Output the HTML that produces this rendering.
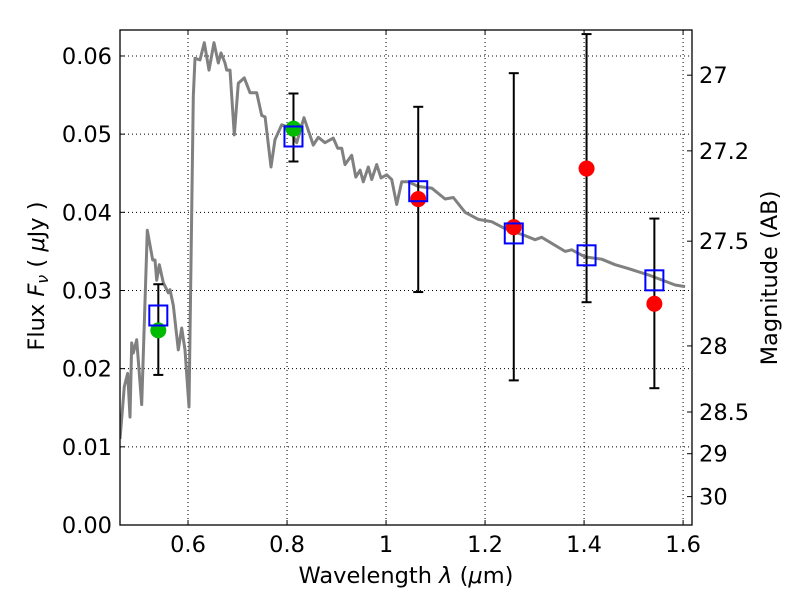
<!DOCTYPE html>
<html><head><meta charset="utf-8"><style>
html,body{margin:0;padding:0;background:#fff;}
svg{display:block;font-family:"DejaVu Sans","Liberation Sans",sans-serif;}
</style></head><body>
<svg id="chart" width="800" height="600" viewBox="0 0 800 600" xmlns="http://www.w3.org/2000/svg">
<rect width="800" height="600" fill="#fff"/>
<g id="grid"></g>
<g id="spec"></g>
<g id="marks"></g>
<g id="axes"></g>
<text x="406" y="583" font-size="22.5" text-anchor="middle">Wavelength  <tspan font-style="italic">λ</tspan> (<tspan font-style="italic">μ</tspan>m)</text>
<text transform="translate(44,276) rotate(-90)" font-size="22.5" text-anchor="middle">Flux  <tspan font-style="italic">F<tspan font-size="16" dy="4">ν</tspan></tspan><tspan dy="-4">  (  </tspan><tspan font-style="italic">μ</tspan>Jy )</text>
<text transform="translate(777,278) rotate(-90)" font-size="22.5" text-anchor="middle">Magnitude (AB)</text>
</svg>
<script>
const specWave=[.4626,.4713,.4782,.4828,.4862,.4895,.4963,.5064,.5178,.5287,.5333,.5367,.5420,.5501,.5602,.5636,.5703,.5804,.5872,.5939,.6020,.6060,.6107,.6141,.6242,.6329,.6424,.6525,.6612,.6666,.6747,.6782,.6848,.6935,.7016,.7137,.7252,.7388,.7489,.7556,.7677,.7757,.7893,.8026,.8196,.8343,.8531,.8632,.8767,.8935,.9024,.9105,.9171,.9307,.9388,.9475,.9541,.9642,.9711,.9812,.9899,1.0014,1.0115,1.0216,1.0317,1.0450,1.0652,1.0923,1.1192,1.1359,1.1596,1.1865,1.2135,1.2404,1.2774,1.3010,1.3145,1.3616,1.3751,1.4020,1.4357,1.4626,1.4895,1.5299,1.5838,1.6040];
const specFlux=[.0110,.0177,.0194,.0138,.0233,.0220,.0237,.0154,.0377,.0339,.0339,.0313,.0333,.0310,.0297,.0301,.0281,.0224,.0252,.0224,.0151,.0335,.0548,.0597,.0595,.0617,.0582,.0617,.0591,.0604,.0591,.0582,.0582,.0499,.0565,.0572,.0553,.0553,.0524,.0522,.0458,.0493,.0512,.0509,.0489,.0521,.0486,.0496,.0489,.0495,.0482,.0482,.0461,.0473,.0445,.0454,.0439,.0458,.0442,.0461,.0444,.0448,.0442,.0410,.0439,.0439,.0433,.0431,.0417,.0419,.0400,.0391,.0388,.0379,.0371,.0365,.0368,.0350,.0352,.0343,.0340,.0333,.0328,.0320,.0307,.0305];
const bandWave=[0.54,0.813,1.065,1.258,1.405,1.542];
const modelFlux=[0.0268,0.0497,0.0427,0.0373,0.0345,0.0313];
const errLow=[0.0192,0.0465,0.0298,0.0185,0.0285,0.0175];
const errHigh=[0.0308,0.0552,0.0535,0.0578,0.0628,0.0392];
const greenWave=[0.54,0.813];
const greenFlux=[0.0249,0.0507];
const redWave=[1.065,1.258,1.405,1.542];
const redFlux=[0.0417,0.0381,0.0456,0.0283];
const xTicks=[0.6,0.8,1.0,1.2,1.4,1.6];
const xTickLabels=["0.6","0.8","1","1.2","1.4","1.6"];
const yTicks=[0,0.01,0.02,0.03,0.04,0.05,0.06];
const yTickLabels=["0.00","0.01","0.02","0.03","0.04","0.05","0.06"];
const magTicks=[27,27.2,27.5,28,28.5,29,30];
const magTickLabels=["27","27.2","27.5","28","28.5","29","30"];

const L=120,R=692,T=30,B=525,X0=0.4626,X1=1.618,Y0=0,Y1=(B-T)/7817;
const sx=v=>L+(v-X0)/(X1-X0)*(R-L);
const sy=v=>B-(v-Y0)/(Y1-Y0)*(B-T);
const NS="http://www.w3.org/2000/svg";
function mk(tag,attrs,parent){const e=document.createElementNS(NS,tag);for(const k in attrs)e.setAttribute(k,attrs[k]);parent.appendChild(e);return e;}
const grid=document.getElementById('grid'),spec=document.getElementById('spec'),marks=document.getElementById('marks'),axes=document.getElementById('axes');

xTicks.forEach((t,i)=>{const x=sx(t);
 let g=mk('line',{x1:x,x2:x,y1:T,y2:B,stroke:'#000','stroke-width':1,'stroke-dasharray':'1,3'},grid);
 
 
 mk('line',{x1:x,x2:x,y1:B,y2:B-5,stroke:'#000'},axes);
 mk('line',{x1:x,x2:x,y1:T,y2:T+5,stroke:'#000'},axes);
 let tx=mk('text',{x:x,y:B+27,'font-size':22.5,'text-anchor':'middle'},axes);tx.textContent=xTickLabels[i];
 
 
});
yTicks.forEach((t,i)=>{const y=sy(t);
 let g=mk('line',{x1:L,x2:R,y1:y,y2:y,stroke:'#000','stroke-width':1,'stroke-dasharray':'1,3'},grid);
 
 
 mk('line',{x1:L,x2:L+5,y1:y,y2:y,stroke:'#000'},axes);
 let tx=mk('text',{x:L-8,y:y+8,'font-size':22.5,'text-anchor':'end'},axes);tx.textContent=yTickLabels[i];
 
 
});
magTicks.forEach((m,i)=>{const f=Math.pow(10,(23.9-m)/2.5);const y=sy(f);
 mk('line',{x1:R,x2:R-5,y1:y,y2:y,stroke:'#000'},axes);
 let tx=mk('text',{x:R+7,y:y+8,'font-size':22.5},axes);tx.textContent=magTickLabels[i];
 
 
});
let fr=mk('rect',{x:L,y:T,width:R-L,height:B-T,fill:'none',stroke:'#000','stroke-width':1.3},axes);



let cp=mk('clipPath',{id:'clip'},spec);mk('rect',{x:L,y:T,width:R-L,height:B-T},cp);
let pts=specWave.map((w,i)=>sx(w).toFixed(1)+','+sy(specFlux[i]).toFixed(1)).join(' ');
let pl=mk('polyline',{points:pts,fill:'none',stroke:'#808080','stroke-width':3,'stroke-linejoin':'round','clip-path':'url(#clip)'},spec);



bandWave.forEach((w,i)=>{const x=sx(w);
 let e=mk('g',{},marks);
 
 
 mk('line',{x1:x,x2:x,y1:sy(errLow[i]),y2:sy(errHigh[i]),stroke:'#000','stroke-width':2},e);
 mk('line',{x1:x-5,x2:x+5,y1:sy(errLow[i]),y2:sy(errLow[i]),stroke:'#000','stroke-width':2},e);
 mk('line',{x1:x-5,x2:x+5,y1:sy(errHigh[i]),y2:sy(errHigh[i]),stroke:'#000','stroke-width':2},e);
});
greenWave.forEach((w,i)=>{let c=mk('circle',{cx:sx(w),cy:sy(greenFlux[i]),r:8,fill:'#00bb00'},marks);
 
 });
redWave.forEach((w,i)=>{let c=mk('circle',{cx:sx(w),cy:sy(redFlux[i]),r:8,fill:'#ff0000'},marks);
 
 });
bandWave.forEach((w,i)=>{let s=mk('rect',{x:sx(w)-9,y:sy(modelFlux[i])-10,width:18,height:20,fill:'none',stroke:'#0000ff','stroke-width':2},marks);
 
 });
</script>
</body></html>
